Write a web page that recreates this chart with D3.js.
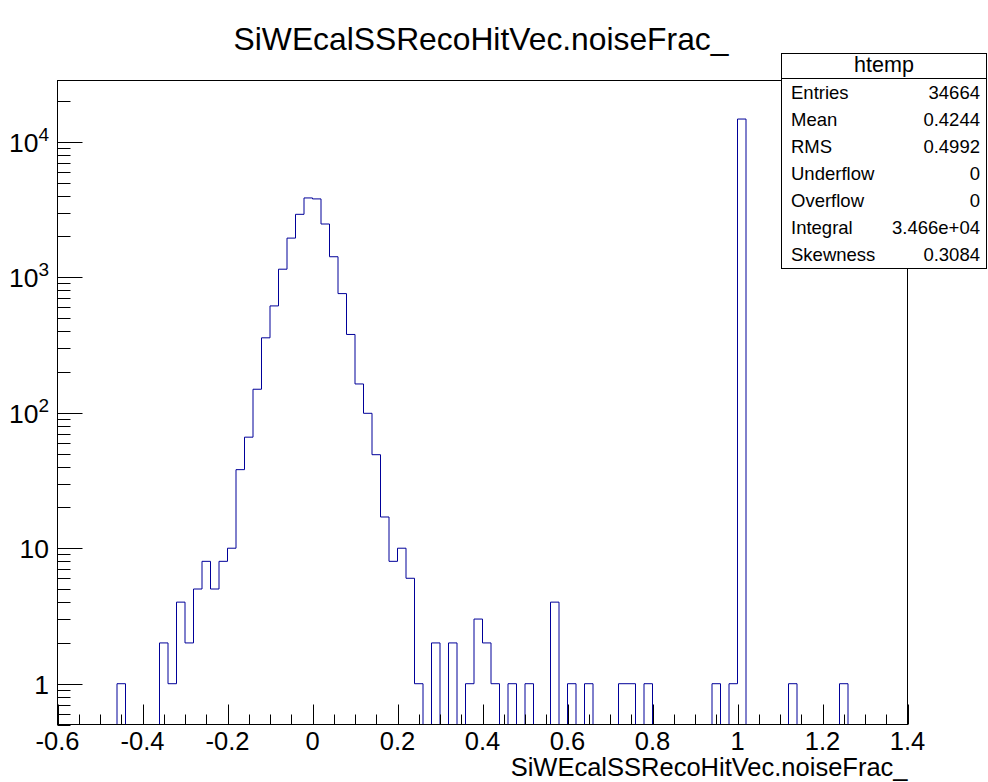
<!DOCTYPE html>
<html>
<head>
<meta charset="utf-8">
<script src="https://cdn.jsdelivr.net/npm/d3@7"></script>
<style>
  html, body { margin: 0; padding: 0; background: #fff; }
  svg { display: block; font-family: "Liberation Sans", Arial, Helvetica, sans-serif; }
</style>
</head>
<body>
<svg id="chart" width="988" height="782"></svg>
<script>
// ---- data ----
const histTitle = "SiWEcalSSRecoHitVec.noiseFrac_";
const xAxisTitle = "SiWEcalSSRecoHitVec.noiseFrac_";
const xMin = -0.6;
const xMax = 1.4;
const binWidth = 0.02;
const counts = [
  0, 0, 0, 0, 0, 0, 0, 1, 0, 0,
  0, 0, 2, 1, 4, 2, 5, 8, 5, 8,
  10, 38, 66, 149, 357, 614, 1146, 1944, 2912, 3846,
  3783, 2470, 1416, 757, 378, 163, 99, 49, 17, 8,
  10, 6, 1, 0, 2, 0, 2, 0, 1, 3,
  2, 1, 0, 1, 0, 1, 0, 0, 4, 0,
  1, 0, 1, 0, 0, 0, 1, 1, 0, 1,
  0, 0, 0, 0, 0, 0, 0, 1, 0, 1,
  14700, 0, 0, 0, 0, 0, 1, 0, 0, 0,
  0, 0, 1, 0, 0, 0, 0, 0, 0, 0
];
const yMin = 0.5;
const yMax = 28300;
const xTickLabels = ["-0.6", "-0.4", "-0.2", "0", "0.2", "0.4", "0.6", "0.8", "1", "1.2", "1.4"];
const yDecades = [0, 1, 2, 3, 4];
const statsName = "htemp";
const statsLabels = ["Entries", "Mean", "RMS", "Underflow", "Overflow", "Integral", "Skewness"];
const statsValues = ["34664", "0.4244", "0.4992", "0", "0", "3.466e+04", "0.3084"];

// ---- layout ----
const svg = d3.select("#chart");
const L = 57.5, R = 907.5, T = 80.5, B = 724.5;
const lineColor = "#000099";

const x = d3.scaleLinear().domain([xMin, xMax]).range([L, R]);
const y = d3.scaleLog().domain([yMin, yMax]).range([B, T]);

// histogram outline
const pts = counts.map((c, i) => [xMin + i * binWidth, c > 0 ? c : yMin]);
pts.push([xMin + counts.length * binWidth, yMin]);
const line = d3.line()
  .x(d => x(d[0]))
  .y(d => y(d[1]))
  .curve(d3.curveStepAfter);
svg.append("path")
  .datum([[xMin, yMin]].concat(pts))
  .attr("d", line)
  .attr("fill", "none")
  .attr("stroke", lineColor)
  .attr("stroke-width", 1);

// frame (drawn over the histogram's zero-level segments)
svg.append("rect").attr("x", L).attr("y", T).attr("width", R - L).attr("height", B - T)
  .attr("fill", "none").attr("stroke", "#000").attr("stroke-width", 1);

// x ticks
const nx = Math.round((xMax - xMin) / 0.05);
const xTickVals = d3.range(nx + 1).map(k => ({ v: xMin + k * 0.05, major: k % 4 === 0 }));
svg.append("g").selectAll("line").data(xTickVals).join("line")
  .attr("x1", d => Math.round(x(d.v)) + 0.5).attr("x2", d => Math.round(x(d.v)) + 0.5)
  .attr("y1", B).attr("y2", d => B - (d.major ? 20 : 10))
  .attr("stroke", "#000").attr("stroke-width", 1);
const xMajorVals = xTickVals.filter(d => d.major);
svg.append("g").selectAll("text").data(xMajorVals).join("text")
  .attr("x", d => x(d.v)).attr("y", 750)
  .attr("text-anchor", "middle").attr("font-size", 25.5)
  .text((d, i) => xTickLabels[i]);

// y ticks
const yTicks = [];
for (let k = -1; k <= 4; k++) {
  for (let m = 1; m <= 9; m++) {
    const v = m * Math.pow(10, k);
    if (v >= yMin && v <= yMax) yTicks.push({ v, major: m === 1 });
  }
}
svg.append("g").selectAll("line").data(yTicks).join("line")
  .attr("x1", L).attr("x2", d => L + (d.major ? 25 : 13))
  .attr("y1", d => Math.round(y(d.v)) + 0.5).attr("y2", d => Math.round(y(d.v)) + 0.5)
  .attr("stroke", "#000").attr("stroke-width", 1);

const yLab = svg.append("g").selectAll("text").data(yDecades).join("text")
  .attr("x", 49).attr("y", d => y(Math.pow(10, d)) + 10)
  .attr("text-anchor", "end").attr("font-size", 26.5);
yLab.each(function(d) {
  const t = d3.select(this);
  if (d === 0) t.text("1");
  else if (d === 1) t.text("10");
  else {
    t.append("tspan").text("10");
    t.append("tspan").attr("dy", -11).attr("font-size", 19).text(String(d));
  }
});

// title
svg.append("text").attr("x", 481).attr("y", 50).attr("text-anchor", "middle")
  .attr("font-size", 31.8).text(histTitle);

// x axis title
svg.append("text").attr("x", R).attr("y", 775.5).attr("text-anchor", "end")
  .attr("font-size", 25.5).text(xAxisTitle);

// stats box
const sx0 = 781.5, sx1 = 986.5, sy0 = 53.5, sy1 = 268.5, sSep = 78.5;
svg.append("rect").attr("x", sx0).attr("y", sy0).attr("width", sx1 - sx0).attr("height", sy1 - sy0)
  .attr("fill", "#fff").attr("stroke", "#000").attr("stroke-width", 1);
svg.append("line").attr("x1", sx0).attr("x2", sx1).attr("y1", sSep).attr("y2", sSep)
  .attr("stroke", "#000").attr("stroke-width", 1);
svg.append("text").attr("x", (sx0 + sx1) / 2).attr("y", 71.5).attr("text-anchor", "middle")
  .attr("font-size", 21.5).text(statsName);
const rowH = (sy1 - sSep) / statsLabels.length;
const rows = svg.append("g").selectAll("g").data(statsLabels).join("g");
rows.append("text").attr("x", 791).attr("y", (d, i) => sSep + rowH * (i + 0.5) + 6.5)
  .attr("font-size", 18.5).text(d => d);
rows.append("text").attr("x", 980).attr("y", (d, i) => sSep + rowH * (i + 0.5) + 6.5)
  .attr("text-anchor", "end").attr("font-size", 18.5).text((d, i) => statsValues[i]);
</script>
</body>
</html>
